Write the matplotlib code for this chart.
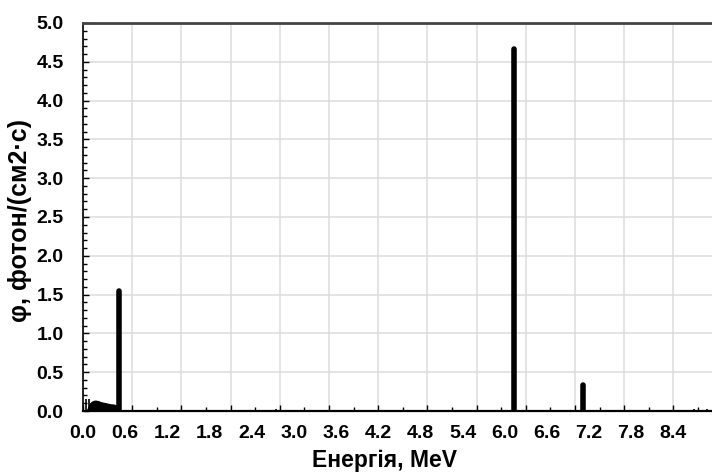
import numpy as np
import matplotlib
matplotlib.use("Agg")
import matplotlib.pyplot as plt
from matplotlib.ticker import MultipleLocator, FixedLocator

# ---- data (MeV, photons/(cm2*s)) ----
peak_energy = [0.511, 6.13, 7.12]
peak_flux = [1.55, 4.67, 0.34]

small_energy = [0.04, 0.08, 2.75, 7.22, 7.92, 8.55, 8.70, 8.88]
small_flux = [0.16, 0.15, 0.02, 0.01, 0.015, 0.015, 0.02, 0.02]

cont_energy = [0.05, 0.08, 0.10, 0.125, 0.15, 0.175, 0.20, 0.225, 0.25, 0.275,
               0.30, 0.325, 0.35, 0.375, 0.40, 0.425, 0.45, 0.475, 0.50]
cont_flux = [0.0, 0.06, 0.10, 0.12, 0.13, 0.135, 0.13, 0.125, 0.115, 0.11,
             0.105, 0.10, 0.095, 0.09, 0.085, 0.085, 0.08, 0.075, 0.075]

x_labels = ["0.0", "0.6", "1.2", "1.8", "2.4", "3.0", "3.6", "4.2",
            "4.8", "5.4", "6.0", "6.6", "7.2", "7.8", "8.4"]
y_labels = ["0.0", "0.5", "1.0", "1.5", "2.0", "2.5", "3.0", "3.5",
            "4.0", "4.5", "5.0"]

x_title = "Енергія, MeV"
y_title = "φ, фотон/(см2·с)"

# ---- figure ----
plt.rcParams["font.family"] = ["Liberation Sans", "DejaVu Sans"]
plt.rcParams["font.weight"] = "bold"

fig = plt.figure(figsize=(7.12, 4.72), dpi=100)
ax = fig.add_axes([83 / 712, 1 - 411 / 472, 1 - 83 / 712, (411 - 23) / 472])

ax.set_xlim(0, 8.95)
ax.set_ylim(0, 5.0)

# grid (major ticks at 0.7 MeV on x, 0.5 on y)
ax.xaxis.set_major_locator(MultipleLocator(0.7))
ax.xaxis.set_minor_locator(MultipleLocator(0.35))
ax.yaxis.set_major_locator(FixedLocator([float(v) for v in y_labels]))
ax.yaxis.set_minor_locator(MultipleLocator(0.1))
ax.set_yticklabels(y_labels)
ax.set_xticklabels([])
ax.grid(True, which="major", color="#dcdcdc", linewidth=1.1, zorder=0)
ax.set_axisbelow(True)

ax.tick_params(axis="both", which="major", direction="in", length=4.5,
               width=1.0, color="black")
ax.tick_params(axis="both", which="minor", direction="in", length=2.8,
               width=1.0, color="black")
ax.tick_params(axis="y", which="major", labelsize=14, pad=14)
ax.tick_params(axis="x", which="major", labelbottom=False)

# x labels every 0.6 MeV on a secondary axis
sec = ax.secondary_xaxis("bottom")
sec.set_xticks([float(v) for v in x_labels])
sec.set_xticklabels(x_labels)
sec.tick_params(axis="x", length=0, labelsize=14, pad=10)
sec.spines["bottom"].set_visible(False)
sec.set_xlabel(x_title, fontsize=16.5, fontweight="bold", labelpad=5)
sec.xaxis.label.set_x(0.48)

for lbl in ax.get_yticklabels() + sec.get_xticklabels():
    lbl.set_fontweight("bold")

# spines
ax.spines["right"].set_visible(False)
ax.spines["left"].set_linewidth(1.2)
ax.spines["bottom"].set_linewidth(1.6)
ax.spines["top"].set_linewidth(2.0)
ax.spines["top"].set_color("#444444")

# data marks
ax.fill_between(cont_energy, cont_flux, 0, color="black", linewidth=0.8, zorder=3)
ax.vlines(small_energy, 0, small_flux, color="black", linewidth=1.2, zorder=3)
ax.vlines(peak_energy, 0, peak_flux, color="black", linewidth=4.0,
          capstyle="round", zorder=4)

ax.set_ylabel(y_title, fontsize=18, fontweight="bold", labelpad=3)
ax.yaxis.label.set_y(0.49)

fig.savefig("out.png", dpi=100)
